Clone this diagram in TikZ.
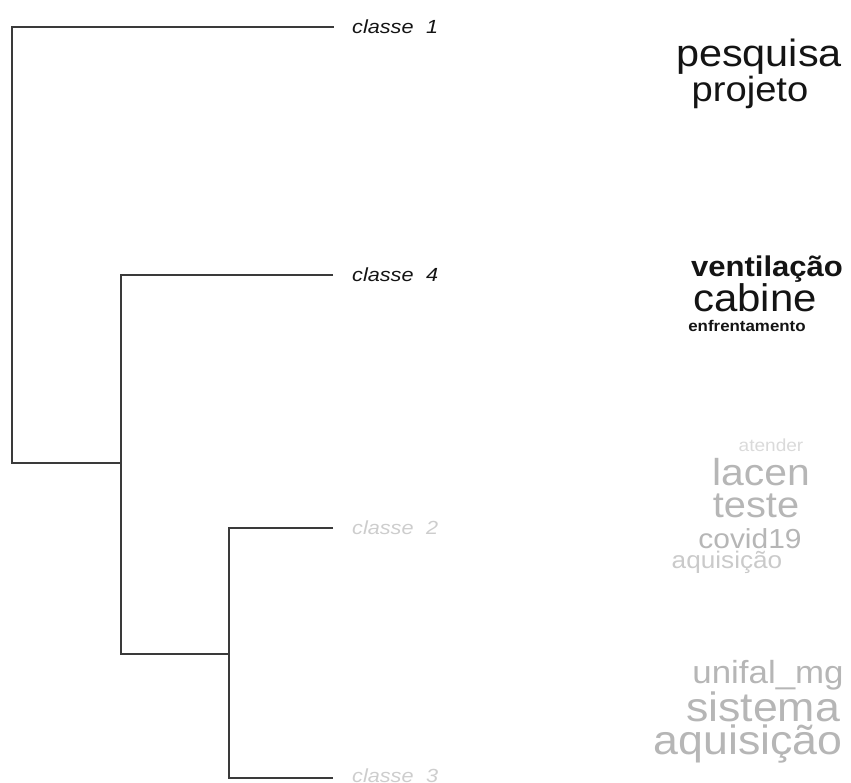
\documentclass[tikz,border=0pt]{standalone}
\usepackage{graphicx}
\usepackage{fontspec}
\setmainfont{Liberation Sans}
\newcommand{\wsz}[1]{\fontsize{#1}{#1}\selectfont}
\newcommand{\wrd}[2]{\scalebox{1.09}[1]{\wsz{#1}#2}}
\newcommand{\wrdb}[2]{\scalebox{1.09}[1]{\wsz{#1}\bfseries #2}}
\newcommand{\clab}[1]{\scalebox{1.14}[1]{\wsz{19}\itshape classe\hspace{11pt}#1}}
\definecolor{linec}{HTML}{3A3A3A}
\definecolor{darkw}{HTML}{141414}
\definecolor{grayA}{HTML}{B6B6B6}
\definecolor{grayB}{HTML}{CACACA}
\definecolor{grayC}{HTML}{DADADA}
\definecolor{lblgray}{HTML}{CDCDCD}
\tikzset{
  branch/.style={draw=linec, line width=2.2pt},
  clslabel/.style={anchor=west, inner sep=0pt},
  word/.style={anchor=base, inner sep=0pt},
}
\begin{document}
\begin{tikzpicture}[x=1pt,y=-1pt]
\useasboundingbox (0,0) rectangle (851,783);
% junction coordinates
\coordinate (r1) at (12,27);
\coordinate (r2) at (12,463);
\coordinate (a1) at (121,463);
\coordinate (a2) at (121,275);
\coordinate (a3) at (121,654);
\coordinate (b1) at (229,654);
\coordinate (b2) at (229,528);
\coordinate (b3) at (229,778);
\coordinate (e1) at (333,27);
\coordinate (e4) at (333,275);
\coordinate (e2) at (333,528);
\coordinate (e3) at (333,778);
% class labels
\node[clslabel, text=darkw] (c1) at (352,27) {\clab{1}};
\node[clslabel, text=darkw] (c4) at (352,275) {\clab{4}};
\node[clslabel, text=lblgray] (c2) at (352,528) {\clab{2}};
\node[clslabel, text=lblgray] (c3) at (352,776) {\clab{3}};
% dendrogram
\draw[branch, line cap=rect] (e1) -- (r1) -- (r2) -- (a1);
\draw[branch] (e4) -- (a2) -- (a3) -- (b1);
\draw[branch] (e2) -- (b2) -- (b3) -- (e3);
% class 1 words
\node[word, text=darkw] (w11) at (759,67) {\wrd{38}{pesquisa}};
\node[word, text=darkw] (w12) at (750,102) {\wrd{35}{projeto}};
% class 4 words
\node[word, text=darkw] (w41) at (767,277) {\wrdb{28.5}{ventilação}};
\node[word, text=darkw] (w42) at (755,312) {\wrd{38.5}{cabine}};
\node[word, text=darkw] (w43) at (747,332) {\wrdb{15.5}{enfrentamento}};
% class 2 words
\node[word, text=grayC] (w21) at (771,451) {\wrd{17.5}{atender}};
\node[word, text=grayA] (w22) at (761,485) {\wrd{37.5}{lacen}};
\node[word, text=grayA] (w23) at (756,517) {\wrd{36.5}{teste}};
\node[word, text=grayA] (w24) at (750,548) {\wrd{27.5}{covid19}};
\node[word, text=grayB] (w25) at (727,568) {\wrd{24}{aquisição}};
% class 3 words
\node[word, text=grayA] (w31) at (768,683) {\wrd{32}{unifal\_mg}};
\node[word, text=grayA] (w32) at (763,721) {\wrd{41}{sistema}};
\node[word, text=grayA] (w33) at (748,754) {\wrd{41}{aquisição}};
\end{tikzpicture}
\end{document}
